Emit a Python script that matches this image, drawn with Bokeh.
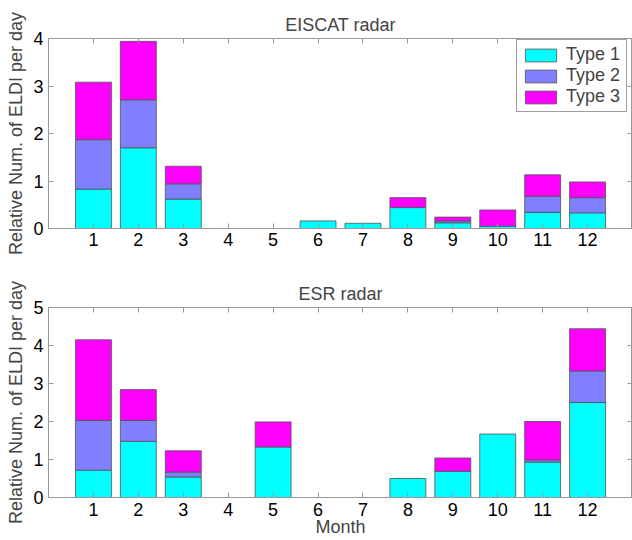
from bokeh.plotting import figure
from bokeh.layouts import column
from bokeh.models import (ColumnDataSource, CDSView, BooleanFilter, FixedTicker,
                          LinearAxis, Range1d, Legend, LegendItem, CustomLabelingPolicy)
from bokeh.embed import file_html
from bokeh.resources import INLINE

months = [1, 2, 3, 4, 5, 6, 7, 8, 9, 10, 11, 12]
type_names = ["Type 1", "Type 2", "Type 3"]
colors = ["#00FFFF", "#8080FF", "#FF00FF"]

eiscat_t1 = [0.83, 1.70, 0.62, 0, 0, 0.16, 0.11, 0.44, 0.12, 0.05, 0.34, 0.33]
eiscat_t2 = [1.04, 1.01, 0.32, 0, 0, 0, 0, 0, 0.04, 0, 0.34, 0.32]
eiscat_t3 = [1.21, 1.23, 0.37, 0, 0, 0, 0, 0.21, 0.08, 0.34, 0.45, 0.33]

esr_t1 = [0.72, 1.48, 0.54, 0, 1.33, 0, 0, 0.50, 0.69, 1.67, 0.93, 2.50]
esr_t2 = [1.31, 0.55, 0.13, 0, 0, 0, 0, 0, 0, 0, 0.06, 0.83]
esr_t3 = [2.12, 0.81, 0.56, 0, 0.66, 0, 0, 0, 0.35, 0, 1.01, 1.11]

FONT = "Liberation Sans"
FS = "18px"
GREY = "#9a9a9a"
EDGE = "#505050"

NO_LABELS = """
for (const i of indices) {
  indices.unset(i)
}
return indices
"""


def style_axis(ax, labels=True):
    ax.major_tick_in = 5
    ax.major_tick_out = 0
    ax.minor_tick_in = 0
    ax.minor_tick_out = 0
    ax.axis_line_color = GREY
    ax.major_tick_line_color = GREY
    ax.major_label_text_font = FONT
    ax.major_label_text_color = "black"
    if labels:
        ax.major_label_text_font_size = FS
    else:
        ax.major_label_text_font_size = "0px"
        ax.major_label_standoff = 0
        ax.major_label_policy = CustomLabelingPolicy(code=NO_LABELS)


def make_panel(title, series, ymax, height, btop, bbottom, xlabel, legend):
    p = figure(width=632, height=height, x_range=Range1d(0, 13), y_range=Range1d(0, ymax),
               output_backend="svg", toolbar_location=None,
               min_border_left=48, min_border_right=0,
               min_border_top=btop, min_border_bottom=bbottom, title=title)
    p.title.text_font = FONT
    p.title.text_font_size = FS
    p.title.text_font_style = "normal"
    p.title.align = "center"
    p.title.standoff = 8
    p.xgrid.visible = False
    p.ygrid.visible = False
    p.outline_line_color = GREY
    p.background_fill_color = "white"
    p.border_fill_color = "white"

    xt = FixedTicker(ticks=months)
    yt = FixedTicker(ticks=list(range(0, ymax + 1)))
    p.xaxis.ticker = xt
    p.yaxis.ticker = yt
    style_axis(p.xaxis[0])
    style_axis(p.yaxis[0])
    p.xaxis.major_label_standoff = 4
    p.yaxis.major_label_standoff = 5
    p.yaxis.axis_label = "Relative Num. of ELDI per day"
    p.yaxis.axis_label_text_font = FONT
    p.yaxis.axis_label_text_font_size = FS
    p.yaxis.axis_label_text_font_style = "normal"
    p.yaxis.axis_label_standoff = 4
    if xlabel:
        p.xaxis.axis_label = xlabel
        p.xaxis.axis_label_text_font = FONT
        p.xaxis.axis_label_text_font_size = FS
        p.xaxis.axis_label_text_font_style = "normal"
        p.xaxis.axis_label_standoff = -2
        p.xaxis.major_label_standoff = 5

    top_ax = LinearAxis(ticker=xt)
    style_axis(top_ax, labels=False)
    p.add_layout(top_ax, "above")
    right_ax = LinearAxis(ticker=yt)
    style_axis(right_ax, labels=False)
    p.add_layout(right_ax, "right")

    bottom = [0.0] * len(months)
    renderers = []
    for vals, col in zip(series, colors):
        tops = [b + v for b, v in zip(bottom, vals)]
        src = ColumnDataSource(dict(x=months, bottom=bottom, top=tops))
        view = CDSView(filter=BooleanFilter([v > 0 for v in vals]))
        r = p.vbar(x="x", bottom="bottom", top="top", width=0.8, source=src, view=view,
                   fill_color=col, line_color=EDGE, line_width=0.8)
        renderers.append(r)
        bottom = tops

    if legend:
        leg = Legend(items=[LegendItem(label=n, renderers=[r]) for n, r in zip(type_names, renderers)],
                     location=(468, 116))
        leg.label_text_font = FONT
        leg.label_text_font_size = FS
        leg.glyph_width = 39
        leg.glyph_height = 16
        leg.label_height = 21
        leg.label_width = 56
        leg.label_standoff = 6
        leg.spacing = 0
        leg.padding = 4
        leg.margin = 0
        leg.border_line_color = "#404040"
        leg.border_line_width = 1
        leg.background_fill_alpha = 1
        p.add_layout(leg)
    return p


p1 = make_panel("EISCAT radar", [eiscat_t1, eiscat_t2, eiscat_t3], 4, 260, 38, 32, None, True)
p2 = make_panel("ESR radar", [esr_t1, esr_t2, esr_t3], 5, 280, 47, 43, "Month", False)

layout = column(p1, p2, spacing=0)
open("out.html", "w").write(file_html(layout, INLINE))
